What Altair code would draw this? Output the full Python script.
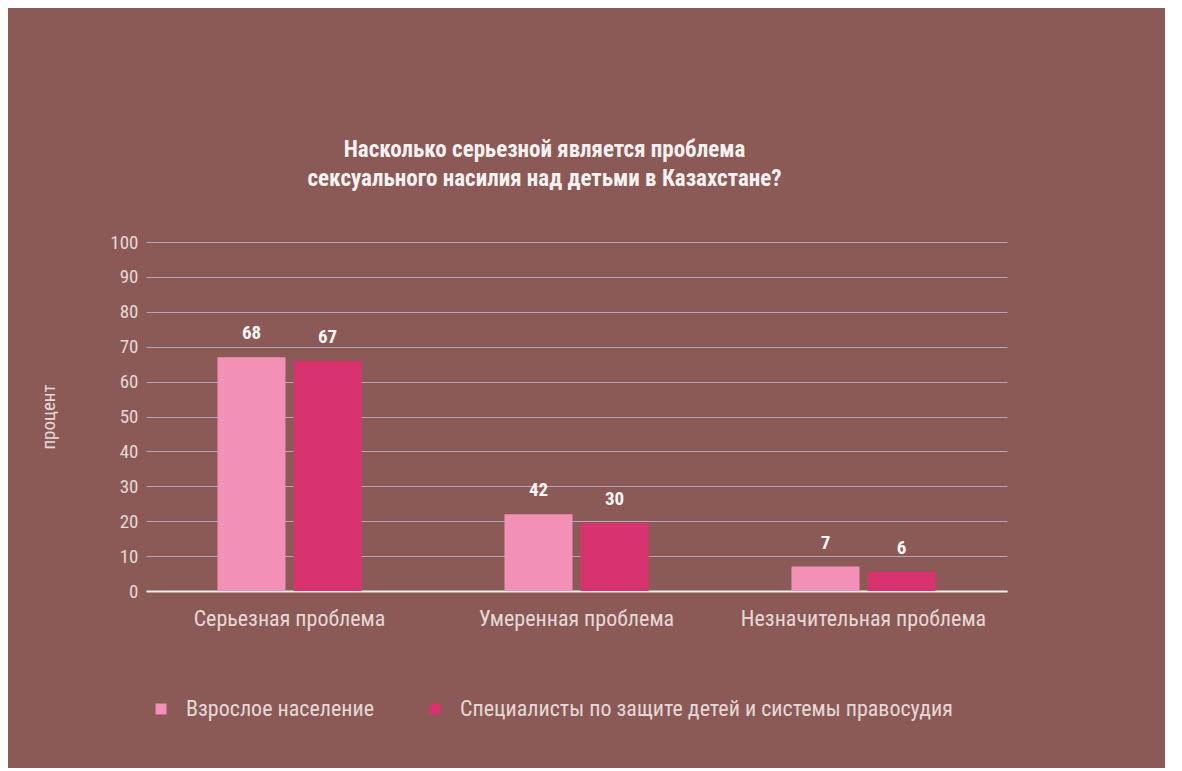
import altair as alt
import pandas as pd

categories = ["Серьезная проблема", "Умеренная проблема", "Незначительная проблема"]
series = ["Взрослое население", "Специалисты по защите детей и системы правосудия"]
# bar heights as drawn on the chart
adults_bar = [67, 22, 7]
specialists_bar = [66, 19.5, 5.5]
# value labels as printed above the bars
adults_label = ["68", "42", "7"]
specialists_label = ["67", "30", "6"]
y_ticks = [0, 10, 20, 30, 40, 50, 60, 70, 80, 90, 100]

rows = []
for i, c in enumerate(categories):
    rows.append({"cat": c, "series": series[0], "value": adults_bar[i], "label": adults_label[i]})
    rows.append({"cat": c, "series": series[1], "value": specialists_bar[i], "label": specialists_label[i]})
df = pd.DataFrame(rows)

FONT = "Liberation Sans Narrow, Roboto Condensed, Roboto, sans-serif"
BG = "#8b5a56"
TXT = "#e6d8d8"
colors = ["#f290b6", "#d9336f"]

x_axis = alt.Axis(title=None, labelAngle=0, labelFontSize=22, labelColor=TXT,
                  labelFont=FONT, labelPadding=17, labelLimit=0, ticks=False,
                  domainColor="#f2eef0", domainWidth=2, grid=False)
y_axis = alt.Axis(values=y_ticks, title="процент", titleFontSize=19,
                  titleFontWeight="normal", titleColor=TXT, titleFont=FONT,
                  titlePadding=51, labelFontSize=19, labelColor=TXT,
                  labelFont=FONT, labelPadding=8, ticks=False, domain=False,
                  grid=True, gridColor="#b7a6bb", gridWidth=1)
y_scale = alt.Scale(domain=[0, 100], nice=False)

x = alt.X("cat:N", sort=categories,
          scale=alt.Scale(paddingInner=0, paddingOuter=0), axis=x_axis)
xo = alt.XOffset("series:N", sort=series,
                 scale=alt.Scale(paddingInner=0.105, paddingOuter=0.94))
y = alt.Y("value:Q", scale=y_scale, axis=y_axis)

bars = alt.Chart(df).mark_bar().encode(
    x=x,
    xOffset=xo,
    y=y,
    color=alt.Color("series:N", sort=series,
                    scale=alt.Scale(domain=series, range=colors),
                    legend=alt.Legend(title=None, orient="none", legendX=4, legendY=456,
                                      direction="horizontal", symbolType="square",
                                      symbolSize=120, symbolStrokeWidth=0,
                                      labelFontSize=22, labelColor=TXT, labelFont=FONT,
                                      labelLimit=0, columnPadding=50, labelOffset=14)),
)

texts = alt.Chart(df).mark_text(baseline="bottom", dy=-14, fontSize=19,
                                fontWeight="bold", color="#fbf6f6", font=FONT).encode(
    x=x,
    xOffset=xo,
    y=y,
    text="label:N",
)

chart = (bars + texts).properties(
    width=861, height=349,
    background=BG,
    padding={"left": 31, "top": 131, "right": 158, "bottom": 48},
    title=alt.TitleParams(
        ["Насколько серьезной является проблема",
         "сексуального насилия над детьми в Казахстане?"],
        fontSize=23, fontWeight="bold", color="#f7f1f1", font=FONT,
        anchor="middle", offset=42, dx=-32, lineHeight=29),
).configure_view(stroke=None)

chart.save("out.html", embed_options={"renderer": "svg", "actions": False})
